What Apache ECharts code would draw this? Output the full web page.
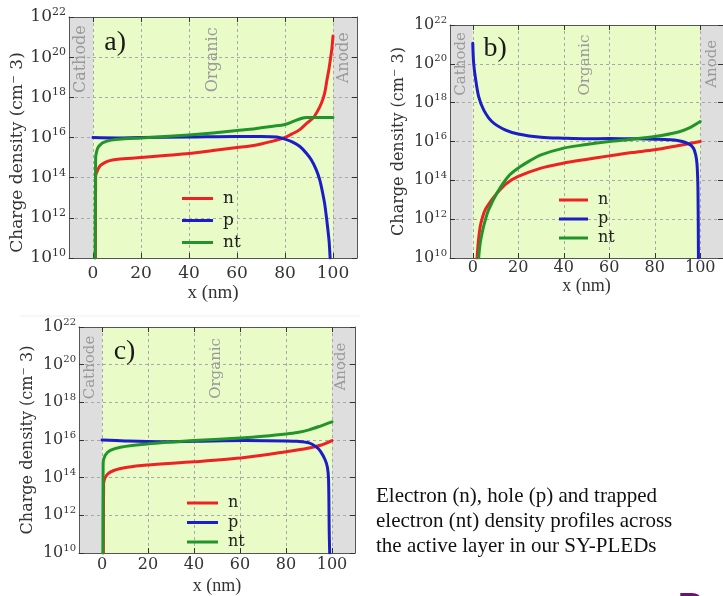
<!DOCTYPE html>
<html><head><meta charset="utf-8">
<script src="https://cdn.jsdelivr.net/npm/echarts@6/dist/echarts.min.js"></script>
<style>html,body{margin:0;padding:0;background:#fff}#c{width:723px;height:596px}</style>
</head><body><div id="c"></div>
<script>
// ---- data (x in nm, value given as log10 of charge density in cm^-3) ----
const xTicks = [0, 20, 40, 60, 80, 100];
const regionNames = ['Cathode', 'Organic', 'Anode'];
const seriesNames = ['n', 'p', 'nt'];

const a_n  = [[1.0,10.0],[1.1,14.08],[2.1,14.42],[3,14.6],[4.9,14.75],[7,14.85],[10.4,14.92],[20,15.0],[30,15.1],[40,15.2],[50,15.35],[60,15.5],[65.5,15.58],[70,15.68],[75,15.82],[80,16.0],[83,16.18],[86,16.38],[89,16.7],[91.7,16.97],[93.5,17.3],[95.2,17.72],[96.5,18.2],[97.5,18.88],[98.3,19.4],[98.9,19.88],[99.5,20.4],[100,21.05]];
const a_p  = [[0,16.0],[10,15.98],[20,16.0],[40,16.02],[60,16.05],[70,16.05],[76.6,16.02],[80,15.92],[83,15.78],[86.2,15.55],[89,15.2],[91,14.88],[93,14.4],[94.5,13.88],[95.5,13.35],[96.5,12.72],[97.3,12.0],[97.9,11.38],[98.4,10.8],[98.8,10.0]];
const a_nt = [[0.9,10.0],[1.1,15.0],[1.5,15.3],[2.1,15.5],[3,15.63],[4.2,15.75],[7.6,15.87],[12,15.93],[20,15.98],[30,16.05],[40,16.13],[50,16.23],[60,16.35],[65.5,16.41],[70,16.48],[75,16.56],[80,16.65],[83.5,16.8],[87,16.96],[89,17.0],[95,17.0],[100,17.0]];

const b_n  = [[1.9,10.0],[2.5,10.9],[3.3,11.63],[4.3,12.1],[5.5,12.49],[8.4,13.0],[11.3,13.43],[15,13.85],[20,14.2],[30,14.63],[40,14.89],[49,15.06],[60,15.26],[70,15.43],[80,15.57],[90,15.78],[100,16.0]];
const b_p  = [[0,21.06],[0.4,20.03],[1.2,19.26],[2.6,18.31],[4.8,17.63],[8.4,17.03],[14.2,16.6],[20,16.39],[30,16.22],[40,16.17],[50,16.14],[60,16.15],[70,16.14],[80,16.12],[90,16.05],[95,15.88],[97,15.66],[98,15.31],[98.6,14.8],[99,13.5],[99.2,10.0]];
const b_nt = [[2.6,10.0],[3.2,10.7],[4.1,11.29],[5.5,11.95],[7,12.49],[10.6,13.34],[15.6,14.2],[20,14.63],[25,15.0],[30,15.31],[40,15.66],[49,15.83],[60,16.0],[70,16.12],[80,16.26],[90,16.48],[95,16.69],[100,17.03]];

const c_n  = [[0.6,10.0],[0.7,13.72],[2.2,14.16],[5.1,14.38],[11,14.55],[19.6,14.67],[40,14.84],[62,15.07],[80,15.38],[90,15.58],[95,15.72],[100,15.97]];
const c_p  = [[0,16.0],[10,15.95],[25,15.91],[40,15.93],[62,15.97],[80,15.95],[85,15.93],[90,15.85],[93,15.65],[95,15.4],[97,14.95],[98,14.55],[98.5,13.9],[98.8,11.1],[99,10.0]];
const c_nt = [[0.4,10.0],[0.5,14.76],[1.4,15.19],[3.6,15.45],[8,15.62],[19.6,15.79],[40,15.97],[62,16.12],[70,16.2],[80,16.32],[85,16.4],[90,16.54],[95,16.74],[100,16.96]];

const captionLines = ['Electron (n), hole (p) and trapped', 'electron (nt) density profiles across', 'the active layer in our SY-PLEDs'];

// ---- styling / layout ----
const COLORS = {n:'#ee2222', p:'#1c1cc8', nt:'#22952a'};
const GREEN_BG = '#e9fbc6', GREY_BG = '#dedede';
const FRAME = '#555555';
const SERIF = 'DejaVu Serif';

const panels = [
  {tag:'a)', data:{n:a_n,p:a_p,nt:a_nt}, grid:{left:69,top:17,width:288,height:241},
   tagAt:[9.2,20.72], regionAt:[[-5,19.9],[50,19.87],[104.5,19.97]], fs:17, sfs:11,
   xMargin:7, xNameGap:26, yNamePad:[0,30,0,0],
   legend:{left:182, top:190, itemWidth:31, itemGap:5}},
  {tag:'b)', data:{n:b_n,p:b_p,nt:b_nt}, grid:{left:450,top:25,width:276,height:233},
   tagAt:[9.9,20.8], regionAt:[[-5,20.0],[49.3,19.94],[105,20.0]], fs:16, sfs:10,
   xMargin:2, xNameGap:19, yNamePad:[0,0,0,0],
   legend:{left:559, top:192, itemWidth:29, itemGap:3}},
  {tag:'c)', data:{n:c_n,p:c_p,nt:c_nt}, grid:{left:79,top:327,width:276,height:235},
   tagAt:[9.8,20.67], regionAt:[[-5,19.85],[49.5,19.8],[104,19.9]], fs:16, sfs:10,
   xMargin:4, xNameGap:24, yNamePad:[0,0,0,0],
   legend:{left:187, top:495, itemWidth:31, itemGap:3.5}}
];

const toData = arr => arr.map(([x, e]) => [x, Math.pow(10, e)]);

const grids = [], xAxes = [], yAxes = [], series = [], legends = [];
panels.forEach((P, i) => {
  grids.push(Object.assign({containLabel:false}, P.grid));
  const xBase = {gridIndex:i, type:'value', min:-10, max:110, z:3};
  xAxes.push(Object.assign({}, xBase, {
    position:'bottom',
    axisLine:{show:true, onZero:false, lineStyle:{color:FRAME, width:1}},
    axisTick:{show:true, inside:true, length:5, customValues:xTicks, lineStyle:{color:'#333'}},
    axisLabel:{customValues:xTicks, fontFamily:SERIF, fontSize:P.fs, color:'#333', margin:P.xMargin},
    splitLine:{show:true, lineStyle:{color:'#a8a8a8', type:[3,3], width:1}},
    name:'x (nm)', nameLocation:'middle', nameGap:P.xNameGap,
    nameTextStyle:{fontFamily:'Liberation Serif', fontSize:P.fs+2, color:'#333'}
  }));
  xAxes.push(Object.assign({}, xBase, {
    position:'top',
    axisLine:{show:true, onZero:false, lineStyle:{color:FRAME, width:1}},
    axisTick:{show:true, inside:true, length:5, customValues:xTicks, lineStyle:{color:'#333'}},
    axisLabel:{show:false}, splitLine:{show:false}
  }));
  const yBase = {gridIndex:i, type:'log', logBase:10, min:1e10, max:1e22, interval:2, z:3};
  yAxes.push(Object.assign({}, yBase, {
    position:'left',
    axisLine:{show:true, onZero:false, lineStyle:{color:FRAME, width:1}},
    axisTick:{show:true, inside:true, length:5, lineStyle:{color:'#333'}},
    axisLabel:{fontFamily:SERIF, fontSize:P.fs, color:'#333', margin:3, lineHeight:P.fs+4,
      formatter: v => '10{s|' + Math.round(Math.log10(v)) + '}',
      rich:{s:{fontFamily:SERIF, fontSize:P.sfs, color:'#333', lineHeight:P.sfs+1, verticalAlign:'top'}}},
    splitLine:{show:true, lineStyle:{color:'#a8a8a8', type:[3,3], width:1}},
    name:'Charge density (cm\u207B 3)', nameLocation:'middle', nameGap:43,
    nameTextStyle:{fontFamily:SERIF, fontSize:P.fs, color:'#333', padding:P.yNamePad}
  }));
  yAxes.push(Object.assign({}, yBase, {
    position:'right',
    axisLine:{show:true, onZero:false, lineStyle:{color:FRAME, width:1}},
    axisTick:{show:true, inside:true, length:5, lineStyle:{color:'#333'}},
    axisLabel:{show:false}, splitLine:{show:false}
  }));
  // background regions + annotations
  const regionLabel = (name, at) => ({
    name, coord:[at[0], Math.pow(10, at[1])], symbol:'circle', symbolSize:0,
    label:{show:true, position:'inside', formatter:'{b}', rotate:90,
      fontFamily:SERIF, fontSize:P.fs - 1, color:'#9a9a9a'}
  });
  series.push({
    type:'line', name:'_bg', xAxisIndex:2*i, yAxisIndex:2*i, data:[], silent:true, z:1,
    markArea:{silent:true, data:[
      [{xAxis:-10, itemStyle:{color:GREY_BG}}, {xAxis:0}],
      [{xAxis:0, itemStyle:{color:GREEN_BG}}, {xAxis:100}],
      [{xAxis:100, itemStyle:{color:GREY_BG}}, {xAxis:110}]
    ]},
    markPoint:{silent:true, animation:false, data:[
      regionLabel(regionNames[0], P.regionAt[0]),
      regionLabel(regionNames[1], P.regionAt[1]),
      regionLabel(regionNames[2], P.regionAt[2]),
      {name:P.tag, coord:[P.tagAt[0], Math.pow(10, P.tagAt[1])], symbol:'circle', symbolSize:0,
       label:{show:true, position:'inside', formatter:'{b}', fontFamily:'Liberation Serif',
         fontSize:28, color:'#1a1a1a'}}
    ]}
  });
  seriesNames.forEach(k => {
    series.push({
      type:'line', name:k, xAxisIndex:2*i, yAxisIndex:2*i, z:6,
      data: toData(P.data[k]), showSymbol:false, symbol:'none',
      smooth:0.3, clip:true,
      lineStyle:{color:COLORS[k], width:3, join:'round', cap:'round'}, itemStyle:{color:COLORS[k]}
    });
  });
  legends.push({
    orient:'vertical', left:P.legend.left, top:P.legend.top, padding:0,
    itemWidth:P.legend.itemWidth, itemHeight:3, itemGap:P.legend.itemGap, icon:'rect',
    data:seriesNames,
    textStyle:{fontFamily:SERIF, fontSize:P.fs, color:'#222', lineHeight:16, padding:[0,0,0,5]},
    selectedMode:false
  });
});

const chart = echarts.init(document.getElementById('c'), null, {renderer:'canvas'});
chart.setOption({
  animation:false,
  backgroundColor:'#ffffff',
  grid:grids, xAxis:xAxes, yAxis:yAxes, series, legend:legends,
  graphic:[
    {type:'line', shape:{x1:20, y1:316, x2:360, y2:316}, style:{stroke:'#eeeeee', lineWidth:1}, silent:true},
    {type:'text', left:376, top:484, style:{text:captionLines.join('\n'), font:'21px "Liberation Serif"',
      fill:'#111', lineHeight:25}, silent:true},
    {type:'text', left:678, top:590, style:{text:'Re', font:'bold 34px "Liberation Sans"', fill:'#6b1276'}, silent:true}
  ]
});
</script>
</body></html>
